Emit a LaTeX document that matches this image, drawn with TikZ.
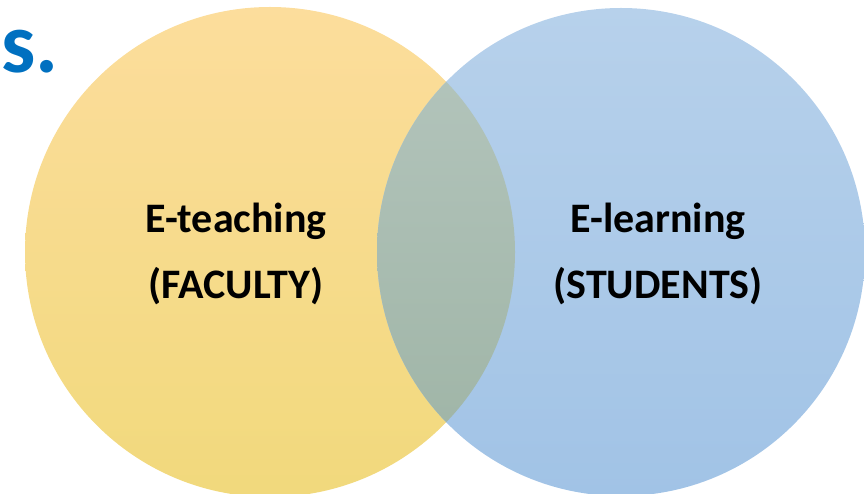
\documentclass[tikz,border=0pt]{standalone}
\usepackage{fontspec}
\setmainfont{Carlito}
\usetikzlibrary{positioning}
\definecolor{ytop}{HTML}{FCDD9C}
\definecolor{ymid}{HTML}{FDDF80}
\definecolor{ybot}{HTML}{F1D97C}
\definecolor{btop}{HTML}{B7D1EB}
\definecolor{bbot}{HTML}{A1C3E6}
\definecolor{otop}{HTML}{B5C6BE}
\definecolor{obot}{HTML}{9DB3A4}
\definecolor{titleblue}{HTML}{0070C0}
\tikzstyle{lbl}=[anchor=base, inner sep=0pt, font=\bfseries\fontsize{42}{50}\selectfont]

\begin{document}
\begin{tikzpicture}[x=1pt,y=-1pt]
    \useasboundingbox (0,0) rectangle (864,494);
    \clip (0,0) rectangle (864,494);
    \coordinate (fc) at (270,252);
    \coordinate (sc) at (621,252);

    \shade[top color=ytop, middle color=ymid, bottom color=ybot] (fc) circle (245);
    \shade[top color=btop, bottom color=bbot] (sc) circle (244);
    \begin{scope}
        \clip (fc) circle (245);
        \shade[top color=otop, bottom color=obot] (sc) circle (244);
    \end{scope}

    \node[anchor=base west, inner sep=0pt, text=titleblue, font=\bfseries\fontsize{86}{96}\selectfont] (title) at (1,73) {s.};

    \node[lbl] (teach) at (236,233) {E-teaching};
    \node[lbl] (faculty) at (236,298) {(FACULTY)};
    \node[lbl] (learn) at (658,233) {E-learning};
    \node[lbl] (students) at (658,298) {(STUDENTS)};
\end{tikzpicture}
\end{document}
